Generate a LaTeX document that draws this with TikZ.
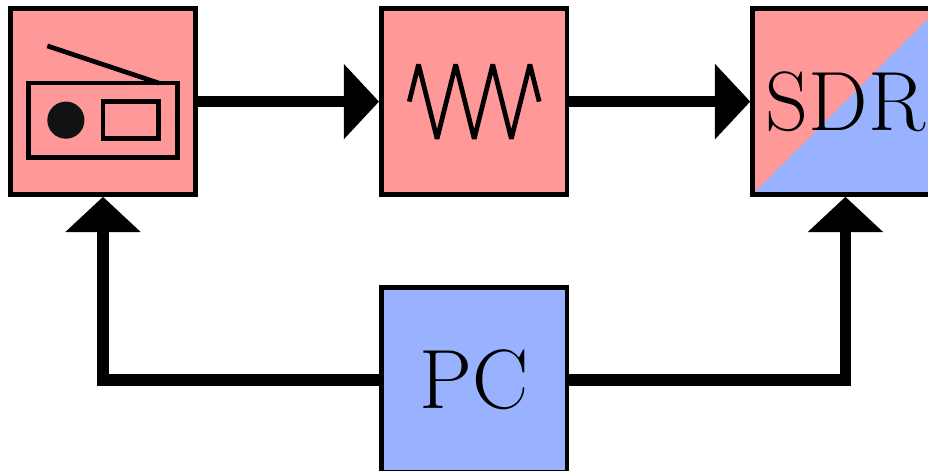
\documentclass[tikz,border=0pt]{standalone}
\usepackage{xcolor}
\usepackage{tikz}
\usetikzlibrary{arrows.meta}
\definecolor{boxred}{rgb}{1,0.6,0.6}
\definecolor{boxblue}{rgb}{0.6,0.7,1}
\tikzset{
  blockbox/.style={draw,line width=1.45pt,minimum size=2cm,inner sep=0pt,font=\fontsize{25.8}{30}\selectfont},
  redbox/.style={blockbox,fill=boxred},
  bluebox/.style={blockbox,fill=boxblue},
  splitbox/.style={blockbox,fill=boxred,path picture={
    \fill[boxblue] (path picture bounding box.south west) -- (path picture bounding box.north east)
      |- cycle;}},
  icon/.style={line width=1.45pt},
  link/.style={line width=3.5pt,-{Triangle[length=3.8mm,width=7.9mm]}}
}

\begin{document}
\begin{tikzpicture}[scale=1]
  \clip (-1.11,-3.97) rectangle (8.89,1.095);
  \node[redbox] (radio) at (0,0) {};
  \node[redbox] (filter) at (4,0) {};
  \node[splitbox] (sdr) at (8,0) {SDR};
  \node[bluebox] (pc) at (4,-3) {PC};
  % radio icon
  \draw[icon] (-0.8,-0.6) rectangle (0.8,0.2);
  \draw[icon] (0,-0.4) rectangle (0.6,0);
  \draw[icon] (-0.6,0.6) -- (0.6,0.2);
  \fill[black!93] (-0.4,-0.2) circle (0.2);
  % zigzag
  \draw[icon,line join=bevel] (4-0.7,0) -- (4-0.6,0.4)
    \foreach \x in {-0.4,0,0.4} { -- (4+\x,-0.4) -- (4+\x+0.2,0.4) }
    -- (4+0.7,0);
  \draw[link] (radio) -- (filter);
  \draw[link] (filter) -- (sdr);
  \draw[link] (pc) -| (radio);
  \draw[link] (pc) -| (sdr);
\end{tikzpicture}
\end{document}
